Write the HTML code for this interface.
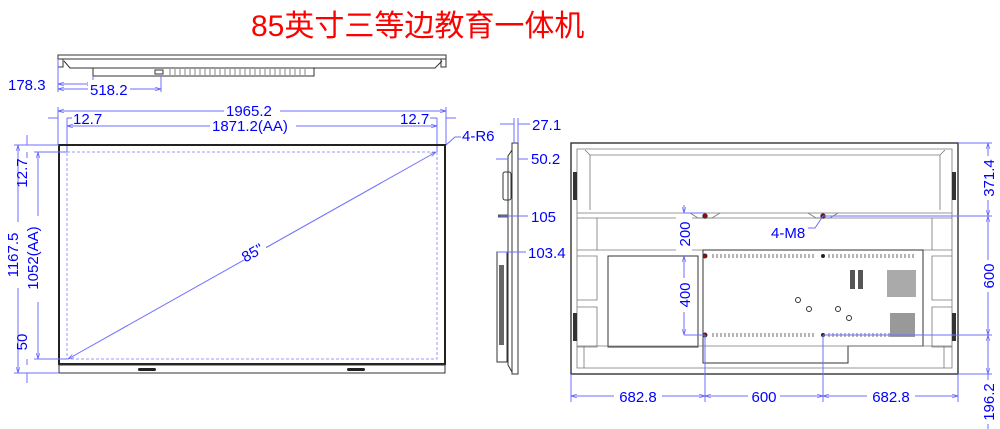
<!DOCTYPE html>
<html><head><meta charset="utf-8"><style>
html,body{margin:0;padding:0;background:#fff;width:1000px;height:429px;overflow:hidden}
svg{display:block}
text{font-family:"Liberation Sans","Noto Sans CJK SC",sans-serif}
.d{fill:#0000ff;font-size:15px}
.b{stroke:#6f6fff;stroke-width:1;fill:none}
.k{stroke:#333;fill:none;stroke-width:1}
.g{stroke:#777;fill:none;stroke-width:0.8}
</style></head><body>
<svg width="1000" height="429" viewBox="0 0 1000 429">
<defs>
<marker id="a" viewBox="0 0 10 10" refX="10" refY="5" markerWidth="6" markerHeight="6" orient="auto-start-reverse"><path d="M0,2 L10,5 L0,8" fill="none" stroke="#5a5aff"/></marker>
</defs>
<text x="251" y="36" fill="#ff0000" font-size="30" style="font-family:'Liberation Sans','Noto Sans CJK SC',sans-serif">85英寸三等边教育一体机</text>

<!-- top view -->
<rect x="58" y="55" width="388" height="4" class="k"/>
<path d="M60,59 L446,59 M64,61 L70,68 L435,68 L442,61" class="k"/>
<rect x="58" y="59" width="5" height="8" class="k"/><rect x="441" y="59" width="5" height="8" class="k"/>
<rect x="93" y="68" width="221" height="8" class="k"/>
<rect x="155" y="70" width="8" height="4" class="k"/>
<path d="M170,69 v6 M175,69 v6 M180,69 v6 M185,69 v6 M190,69 v6 M195,69 v6 M200,69 v6 M205,69 v6 M210,69 v6 M215,69 v6 M220,69 v6 M225,69 v6 M230,69 v6 M235,69 v6 M240,69 v6 M245,69 v6 M250,69 v6 M255,69 v6 M260,69 v6 M265,69 v6 M270,69 v6 M275,69 v6 M280,69 v6 M285,69 v6 M290,69 v6 M295,69 v6 M300,69 v6 M305,69 v6" stroke="#555" stroke-width="0.7"/>
<path d="M58,59 V92 M93,76 V86 M161,76 V92" class="b"/>
<line x1="58" y1="84" x2="93" y2="84" class="b" marker-start="url(#a)" marker-end="url(#a)"/>
<line x1="58" y1="89" x2="161" y2="89" class="b" marker-start="url(#a)" marker-end="url(#a)"/>
<text x="8" y="90" class="d">178.3</text>
<rect x="88" y="80" width="42" height="16" fill="#fff"/>
<text x="90" y="95" class="d">518.2</text>

<!-- front view dims top -->
<path d="M58,107 V145 M446,107 V145 M67,118 V152 M437,118 V152" class="b"/>
<line x1="58" y1="111" x2="446" y2="111" class="b" marker-start="url(#a)" marker-end="url(#a)"/>
<line x1="67" y1="126" x2="437" y2="126" class="b" marker-start="url(#a)" marker-end="url(#a)"/>
<path d="M48,118 H58 M67,118 H72 M430,118 H437 M446,118 H456" class="b"/>
<rect x="224" y="102" width="56" height="16" fill="#fff"/><text x="226" y="116" class="d">1965.2</text>
<rect x="210" y="118" width="86" height="16" fill="#fff"/><text x="212" y="131" class="d">1871.2(AA)</text>
<text x="73" y="124" class="d">12.7</text>
<text x="400" y="124" class="d">12.7</text>
<path d="M446,145 L455,137 H461" class="b"/>
<text x="462" y="141" class="d">4-R6</text>

<!-- front view -->
<rect x="59" y="145" width="386" height="219" fill="none" stroke="#222" stroke-width="2"/>
<rect x="67" y="152" width="370" height="207" fill="none" stroke="#9a9aff" stroke-dasharray="3,2"/>
<rect x="59" y="365" width="386" height="8" class="k"/>
<rect x="138" y="368" width="18" height="3" rx="1.5" fill="#222"/>
<rect x="347" y="368" width="18" height="3" rx="1.5" fill="#222"/>
<line x1="68" y1="359" x2="436" y2="152" class="b" marker-start="url(#a)" marker-end="url(#a)"/>
<rect x="238" y="240" width="28" height="20" fill="#fff"/>
<text x="252" y="258" class="d" text-anchor="middle" transform="rotate(-29 252 252)">85"</text>

<!-- left dims -->
<path d="M14,145 H59 M14,373 H59 M34,152 H67 M34,359 H67" class="b"/>
<line x1="18" y1="145" x2="18" y2="373" class="b" marker-start="url(#a)" marker-end="url(#a)"/>
<line x1="38" y1="152" x2="38" y2="359" class="b" marker-start="url(#a)" marker-end="url(#a)"/>
<path d="M27,135 V145 M27,152 V158 M27,359 V365 M27,373 V383" class="b"/>
<rect x="10" y="222" width="16" height="66" fill="#fff"/>
<text x="24" y="255" class="d" text-anchor="middle" transform="rotate(-90 24 255)" dy="-6">1167.5</text>
<rect x="30" y="216" width="16" height="86" fill="#fff"/>
<text x="44" y="258" class="d" text-anchor="middle" transform="rotate(-90 44 258)" dy="-6">1052(AA)</text>
<text x="33" y="173" class="d" text-anchor="middle" transform="rotate(-90 33 173)" dy="-6">12.7</text>
<text x="33" y="342" class="d" text-anchor="middle" transform="rotate(-90 33 342)" dy="-6">50</text>

<!-- side view -->
<rect x="512" y="143" width="6" height="231" class="k"/>
<path d="M512,150 L508,156 V365 L512,372" class="k"/>
<rect x="503" y="172" width="8" height="28" rx="2" class="k"/>
<rect x="497" y="252" width="10" height="110" class="k"/>
<rect x="499" y="265" width="5" height="80" fill="#666"/>
<path d="M498,216 H508" stroke="#555" stroke-width="3"/>
<path d="M514,118 V143 M518,118 V143" class="b"/>
<path d="M500,124 H514 M518,124 H530" class="b"/>
<text x="532" y="130" class="d">27.1</text>
<path d="M496,159 H508 M518,159 H528" class="b"/>
<text x="531" y="164" class="d">50.2</text>
<path d="M500,216 H528" class="b"/>
<text x="531" y="222" class="d">105</text>
<path d="M497,252 H526" class="b"/>
<text x="528" y="258" class="d">103.4</text>

<!-- back view -->
<rect x="571" y="143" width="387" height="231" fill="none" stroke="#333" stroke-width="1.4"/>
<path d="M577,149 H952 V368 H577 Z" class="g"/>
<path d="M585,150 L590,155 V210 M945,150 L940,155 V210 M590,155 H940" class="g"/>
<path d="M577,213 H952 M577,218 H952 M577,250 H952 M597,218 V250 M932,218 V250" class="g"/>
<path d="M690,213 L698,218 H712 L720,213 M808,213 L816,218 H830 L838,213" class="g"/>
<rect x="608" y="256" width="90" height="91" class="k"/>
<path d="M703,250 H923 V346 H848 V363 H703 Z" class="k"/>
<path d="M577,256 H597 V300 H577 M577,307 H597 V347 H577 M952,256 H932 V300 H952 M952,307 H932 V347 H952" class="g"/>
<path d="M577,346 H952 M584,346 V368 M944,346 V368" class="g"/>
<rect x="573" y="172" width="4" height="28" fill="#333"/><rect x="952" y="172" width="4" height="28" fill="#333"/>
<rect x="573" y="313" width="4" height="28" fill="#333"/><rect x="952" y="313" width="4" height="28" fill="#333"/>
<g stroke="#444" stroke-width="0.8">
<path d="M713,254 v4 M717,254 v4 M721,254 v4 M725,254 v4 M729,254 v4 M733,254 v4 M737,254 v4 M741,254 v4 M745,254 v4 M749,254 v4 M753,254 v4 M757,254 v4 M761,254 v4 M765,254 v4 M769,254 v4 M773,254 v4 M777,254 v4 M781,254 v4 M785,254 v4 M789,254 v4 M793,254 v4 M797,254 v4 M801,254 v4 M805,254 v4 M809,254 v4 M813,254 v4 M829,254 v4 M833,254 v4 M837,254 v4 M841,254 v4 M845,254 v4 M849,254 v4 M853,254 v4 M857,254 v4 M861,254 v4 M865,254 v4 M869,254 v4 M873,254 v4 M877,254 v4 M881,254 v4 M885,254 v4 M889,254 v4 M893,254 v4 M897,254 v4 M901,254 v4 M905,254 v4 M909,254 v4 M913,254 v4"/>
<path d="M713,333 v4 M717,333 v4 M721,333 v4 M725,333 v4 M729,333 v4 M733,333 v4 M737,333 v4 M741,333 v4 M745,333 v4 M749,333 v4 M753,333 v4 M757,333 v4 M761,333 v4 M765,333 v4 M769,333 v4 M773,333 v4 M777,333 v4 M781,333 v4 M785,333 v4 M789,333 v4 M793,333 v4 M797,333 v4 M801,333 v4 M805,333 v4 M809,333 v4 M813,333 v4 M829,333 v4 M833,333 v4 M837,333 v4 M841,333 v4 M845,333 v4 M849,333 v4 M853,333 v4 M857,333 v4 M861,333 v4 M865,333 v4 M869,333 v4 M873,333 v4 M877,333 v4 M881,333 v4 M885,333 v4 M889,333 v4 M893,333 v4 M897,333 v4 M901,333 v4 M905,333 v4 M909,333 v4 M913,333 v4"/>
</g>
<rect x="850" y="270" width="5" height="19" fill="#555"/><rect x="858" y="270" width="5" height="19" fill="#555"/>
<rect x="887" y="270" width="29" height="27" fill="#aaa"/>
<rect x="890" y="313" width="25" height="24" fill="#999"/>
<circle cx="798" cy="300" r="2.5" class="k"/><circle cx="809" cy="309" r="2.5" class="k"/>
<circle cx="838" cy="309" r="2.5" class="k"/><circle cx="849" cy="318" r="2.5" class="k"/>
<circle cx="705" cy="216" r="2.2" fill="#a00" stroke="#333"/><circle cx="823" cy="216" r="2.2" fill="#a00" stroke="#333"/>
<circle cx="705" cy="256" r="2" fill="#a00" stroke="#333"/><circle cx="823" cy="256" r="2" fill="#222"/>
<circle cx="705" cy="335" r="2" fill="#a00" stroke="#333"/><circle cx="823" cy="335" r="2" fill="#222"/>

<!-- back dims -->
<path d="M823,216 H992 M823,335 H992 M958,143 H992 M958,374 H992" class="b"/>
<line x1="988" y1="143" x2="988" y2="216" class="b" marker-start="url(#a)" marker-end="url(#a)"/>
<line x1="988" y1="216" x2="988" y2="335" class="b" marker-start="url(#a)" marker-end="url(#a)"/>
<line x1="988" y1="335" x2="988" y2="374" class="b" marker-start="url(#a)" marker-end="url(#a)"/>
<line x1="988" y1="374" x2="988" y2="429" class="b"/>
<rect x="980" y="156" width="16" height="44" fill="#fff"/>
<text x="994" y="178" class="d" text-anchor="middle" transform="rotate(-90 994 178)">371.4</text>
<rect x="980" y="260" width="16" height="32" fill="#fff"/>
<text x="994" y="276" class="d" text-anchor="middle" transform="rotate(-90 994 276)">600</text>
<rect x="980" y="380" width="20" height="44" fill="#fff"/>
<text x="994" y="402" class="d" text-anchor="middle" transform="rotate(-90 994 402)">196.2</text>

<path d="M571,374 V402 M705,335 V402 M823,335 V402 M958,374 V402 M684,213 H705 M684,335 H705" class="b"/>
<line x1="571" y1="396" x2="705" y2="396" class="b" marker-start="url(#a)" marker-end="url(#a)"/>
<line x1="705" y1="396" x2="823" y2="396" class="b" marker-start="url(#a)" marker-end="url(#a)"/>
<line x1="823" y1="396" x2="958" y2="396" class="b" marker-start="url(#a)" marker-end="url(#a)"/>
<rect x="614" y="388" width="48" height="16" fill="#fff"/><text x="638" y="402" class="d" text-anchor="middle">682.8</text>
<rect x="748" y="388" width="32" height="16" fill="#fff"/><text x="764" y="402" class="d" text-anchor="middle">600</text>
<rect x="867" y="388" width="48" height="16" fill="#fff"/><text x="891" y="402" class="d" text-anchor="middle">682.8</text>

<line x1="684" y1="205" x2="684" y2="213" class="b" marker-end="url(#a)"/>
<line x1="684" y1="256" x2="684" y2="335" class="b" marker-start="url(#a)" marker-end="url(#a)"/>
<rect x="676" y="216" width="16" height="36" fill="#fff"/>
<text x="690" y="234" class="d" text-anchor="middle" transform="rotate(-90 690 234)">200</text>
<rect x="676" y="278" width="16" height="34" fill="#fff"/>
<text x="690" y="295" class="d" text-anchor="middle" transform="rotate(-90 690 295)">400</text>
<path d="M823,216 L815,228 H808" class="b"/>
<text x="771" y="238" class="d">4-M8</text>
</svg>
</body></html>
